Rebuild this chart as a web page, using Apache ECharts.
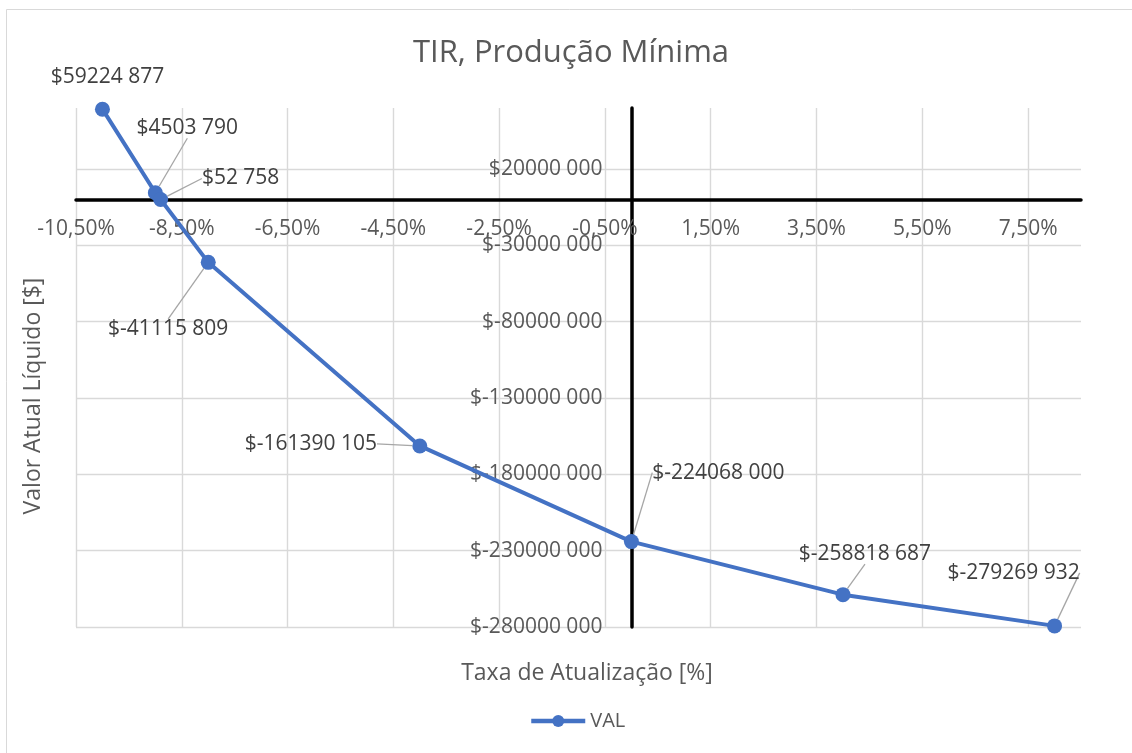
<!DOCTYPE html>
<html>
<head>
<meta charset="utf-8">
<script src="https://cdn.jsdelivr.net/npm/echarts@6/dist/echarts.min.js"></script>
<style>
  html, body { margin: 0; padding: 0; background: #ffffff; }
  #chart { width: 1132px; height: 753px; }
</style>
</head>
<body>
<div id="chart"></div>
<script>
// Discount rate (%) and net present value ($)
const rates = [-10, -9, -8.9, -8, -4, 0, 4, 8];
const npv = [59224877, 4503790, 52758, -41115809, -161390105, -224068000, -258818687, -279269932];

// Axis tick values
const xTicks = [-10.5, -8.5, -6.5, -4.5, -2.5, -0.5, 1.5, 3.5, 5.5, 7.5];
const yTicks = [-280000000, -230000000, -180000000, -130000000, -80000000, -30000000, 20000000];
const xMin = -10.5, xMax = 8.5;
const yMin = -280000000, yMax = 60000000;

// Data label shifts (px) from each point
const labelOffsets = [[5, -32], [32, -65], [80, -21], [-40, 67], [-109, -2], [87, -69], [22, -41], [-41, -53]];

const FONT = "'Open Sans', 'Noto Sans', sans-serif";
const TEXT = '#595959';

function money(v) {
  const sign = v < 0 ? '-' : '';
  const a = Math.abs(Math.round(v));
  const hi = Math.floor(a / 1000);
  const lo = String(a % 1000).padStart(3, '0');
  return '$' + sign + (hi > 0 ? hi + ' ' + lo : String(a % 1000));
}

function pct(v) {
  return v.toFixed(2).replace('.', ',') + '%';
}

const seriesData = rates.map((r, i) => {
  const item = { value: [r, npv[i]] };
  if (i === 0) item.labelLine = { show: false };
  return item;
});

const chart = echarts.init(document.getElementById('chart'), null, { renderer: 'canvas' });

chart.setOption({
  backgroundColor: '#ffffff',
  animation: false,
  textStyle: { fontFamily: FONT },
  grid: { left: 76, right: 51, top: 108, bottom: 126, containLabel: false, outerBoundsMode: 'none' },
  xAxis: {
    type: 'value',
    min: xMin,
    max: xMax,
    axisLine: { show: true, onZero: false, lineStyle: { color: '#000000', width: 3.5 } },
    axisTick: { show: false, customValues: xTicks },
    axisLabel: {
      customValues: xTicks,
      formatter: pct,
      color: TEXT,
      fontSize: 21,
      fontFamily: FONT,
      margin: 19
    },
    splitLine: { show: true, lineStyle: { color: '#d9d9d9', width: 1.4 } }
  },
  yAxis: {
    type: 'value',
    min: yMin,
    max: yMax,
    axisLine: { show: true, onZero: false, lineStyle: { color: '#000000', width: 3.5 } },
    axisTick: { show: false, customValues: yTicks },
    axisLabel: {
      customValues: yTicks,
      formatter: money,
      color: TEXT,
      fontSize: 21,
      fontFamily: FONT,
      margin: 29
    },
    splitLine: { show: true, lineStyle: { color: '#d9d9d9', width: 1.4 } }
  },
  legend: {
    data: [{ name: 'VAL', itemStyle: { color: '#4472C4' }, lineStyle: { color: '#4472C4', width: 4.5 } }],
    left: 529,
    top: 711,
    padding: 0,
    itemWidth: 54,
    itemHeight: 15,
    itemGap: 10,
    textStyle: { color: TEXT, fontSize: 20, fontFamily: FONT }
  },
  graphic: [
    {
      type: 'rect',
      silent: true,
      shape: { x: 6.5, y: 9.5, width: 1200, height: 800 },
      style: { fill: 'none', stroke: '#d9d9d9', lineWidth: 1 }
    },
    {
      type: 'text',
      x: 571, y: 53,
      style: {
        text: 'TIR, Produção Mínima',
        fill: TEXT, font: "31px " + FONT,
        textAlign: 'center', textVerticalAlign: 'middle'
      }
    },
    {
      type: 'text',
      x: 587, y: 673,
      style: {
        text: 'Taxa de Atualização [%]',
        fill: TEXT, font: "23px " + FONT,
        textAlign: 'center', textVerticalAlign: 'middle'
      }
    },
    {
      type: 'text',
      x: 33, y: 396,
      rotation: Math.PI / 2,
      style: {
        text: 'Valor Atual Líquido [$]',
        fill: TEXT, font: "23px " + FONT,
        textAlign: 'center', textVerticalAlign: 'middle'
      }
    }
  ],
  series: [
    {
      name: 'VAL',
      type: 'line',
      data: seriesData,
      symbol: 'circle',
      symbolSize: 15,
      z: 3,
      lineStyle: { color: '#4472C4', width: 4 },
      itemStyle: { color: '#4472C4' },
      label: {
        show: true,
        position: 'inside',
        formatter: p => money(p.value[1]),
        color: '#404040',
        fontSize: 21,
        fontFamily: FONT,
        padding: 5
      },
      labelLine: {
        show: true,
        lineStyle: { color: '#a6a6a6', width: 1.3 }
      },
      labelLayout: function (params) {
        const o = labelOffsets[params.dataIndex];
        return { dx: o[0], dy: o[1] };
      }
    }
  ]
});

// Move both axes (line and labels) onto the zero lines of the other axis
const zeroX = chart.convertToPixel({ xAxisIndex: 0 }, 0);
const leftX = chart.convertToPixel({ xAxisIndex: 0 }, xMin);
const zeroY = chart.convertToPixel({ yAxisIndex: 0 }, 0);
const bottomY = chart.convertToPixel({ yAxisIndex: 0 }, yMin);
chart.setOption({
  xAxis: { offset: zeroY - bottomY },
  yAxis: { offset: leftX - zeroX }
});
</script>
</body>
</html>
